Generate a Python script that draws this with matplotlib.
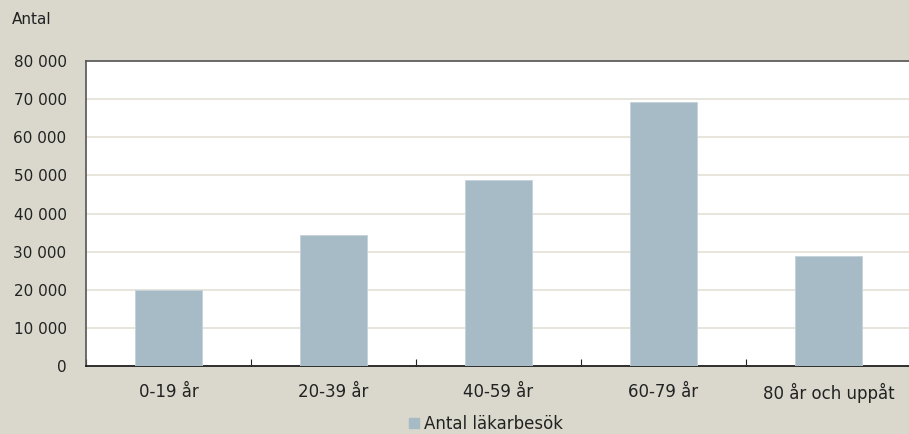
import numpy as np
import matplotlib
matplotlib.use('Agg')
import matplotlib.pyplot as plt
from matplotlib.patches import Patch

categories = ['0-19 år', '20-39 år', '40-59 år', '60-79 år', '80 år och uppåt']
visits = [20000, 34400, 48800, 69300, 28900]
yticks = [0, 10000, 20000, 30000, 40000, 50000, 60000, 70000, 80000]
ytick_labels = ['0', '10 000', '20 000', '30 000', '40 000', '50 000', '60 000', '70 000', '80 000']
series_name = 'Antal läkarbesök'

bg = '#dad8cc'
bar_color = '#a7bbc6'

plt.rcParams['font.family'] = ['DejaVu Sans']

W, H = 909, 434
fig = plt.figure(figsize=(W / 100, H / 100), dpi=100, facecolor=bg)
ax = fig.add_axes([86 / W, (H - 366) / H, (911 - 86) / W, (366 - 61) / H])
ax.set_facecolor('white')

x = np.arange(len(categories))
ax.bar(x, visits, width=0.41, color=bar_color, edgecolor='#c4d2da', linewidth=0.6, zorder=3)

ax.set_xlim(-0.5, len(categories) - 0.5)
ax.set_ylim(0, 80000)
ax.set_yticks(yticks)
ax.set_yticklabels(ytick_labels, fontsize=11, color='#222222')
ax.tick_params(axis='y', length=0, pad=14)
ax.grid(axis='y', color='#e3e0d6', linewidth=1.2, zorder=0)

# category boundary ticks, labels at the centres
ax.set_xticks(np.arange(len(categories) + 1) - 0.5)
ax.set_xticklabels([])
ax.tick_params(axis='x', which='major', direction='in', length=5, color='#222222')
ax.set_xticks(x, minor=True)
ax.set_xticklabels(categories, minor=True, fontsize=12, color='#222222')
ax.tick_params(axis='x', which='minor', length=0, pad=12)

for s in ['left', 'top']:
    ax.spines[s].set_color('#555555')
    ax.spines[s].set_linewidth(1.2)
ax.spines['bottom'].set_color('#111111')
ax.spines['bottom'].set_linewidth(1.2)
ax.spines['right'].set_visible(False)

fig.text(12 / W, 1 - 20 / H, 'Antal', fontsize=11, color='#222222', va='center', ha='left')

fig.legend(handles=[Patch(color=bar_color, label=series_name)], loc='center',
           bbox_to_anchor=(486 / W, 1 - 424 / H), frameon=False, fontsize=12,
           handlelength=0.6, handleheight=0.6, handletextpad=0.3, labelcolor='#222222')

fig.savefig('out.png', dpi=100, facecolor=bg)
